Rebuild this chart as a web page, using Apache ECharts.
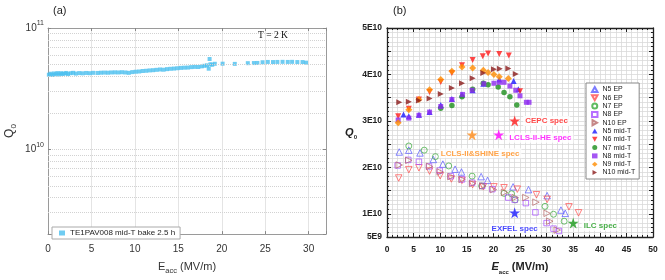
<!DOCTYPE html>
<html><head><meta charset="utf-8">
<script src="https://cdn.jsdelivr.net/npm/echarts@6/dist/echarts.min.js"></script>
<style>html,body{margin:0;padding:0;background:#fff}#c{width:665px;height:280px}</style>
</head><body><div id="c"></div>
<script>
// ---------- Panel (a) data ----------
const aName = 'TE1PAV008 mid-T bake 2.5 h';
const aE = [0.1,0.3,0.5,0.7,0.9,1.1,1.3,1.5,1.7,1.9,2.1,2.3,2.6,2.9,3.2,3.6,4.0,4.4,4.8,5.2,
  5.7,6.1,6.5,6.9,7.3,7.7,8.1,8.5,8.9,9.3,9.7,
  10.1,10.5,10.9,11.3,11.7,12.1,12.5,12.9,13.3,13.7,14.1,14.5,14.9,15.3,15.7,16.1,16.5,16.9,17.3,17.7,
  18.0,18.3,18.5,18.6,18.7,18.9,19.2,
  20.1,21.5,23.0,23.7,24.1,24.7,25.3,25.9,26.4,27.0,27.6,28.1,28.7,29.3,29.7];
const aQ = [4.12e10,4.20e10,4.10e10,4.22e10,4.15e10,4.25e10,4.14e10,4.24e10,4.18e10,4.22e10,
  4.26e10,4.17e10,4.24e10,4.27e10,4.21e10,4.25e10,4.23e10,4.26e10,4.24e10,4.27e10,
  4.26e10,4.28e10,4.29e10,4.28e10,4.30e10,4.31e10,4.30e10,4.32e10,4.30e10,4.27e10,4.33e10,
  4.36e10,4.38e10,4.42e10,4.44e10,4.47e10,4.49e10,4.52e10,4.55e10,4.53e10,4.58e10,4.61e10,4.63e10,4.66e10,4.69e10,4.71e10,4.72e10,4.76e10,4.78e10,4.77e10,4.83e10,
  4.88e10,4.92e10,4.62e10,5.55e10,5.02e10,4.98e10,5.07e10,
  5.08e10,5.06e10,5.13e10,5.14e10,5.15e10,5.22e10,5.25e10,5.24e10,5.25e10,5.26e10,5.25e10,5.26e10,5.24e10,5.24e10,5.18e10];
const aXTicks = [0,5,10,15,20,25,30];
const aMinorGrid = [3e9,4e9,5e9,6e9,7e9,8e9,9e9,2e10,3e10,4e10,5e10,6e10,7e10,8e10,9e10];

// ---------- Panel (b) data ----------
const n5EP_E = [2.3,4.1,6.2,8.7,10.5,12.8,14.0,17.7,18.9,23.7,26.6,30.1,32.7,33.5];
const n5EP_Q = [2.33e10,2.37e10,2.31e10,2.17e10,2.07e10,1.96e10,1.90e10,1.80e10,1.72e10,1.58e10,1.52e10,1.39e10,1.08e10,1.01e10];
const n6EP_E = [2.2,4.1,6.0,8.0,10.0,12.1,14.1,16.1,18.1,20.1,22.0,24.5,28.1,30.1,34.2,36.0];
const n6EP_Q = [1.77e10,1.95e10,1.99e10,1.92e10,1.82e10,1.75e10,1.72e10,1.63e10,1.58e10,1.58e10,1.56e10,1.53e10,1.41e10,1.31e10,1.15e10,1.02e10];
const n7EP_E = [4.1,7.0,9.1,11.6,16.0,17.8,22.0,23.4,24.1,29.7,31.3,33.3];
const n7EP_Q = [2.46e10,2.37e10,2.23e10,2.03e10,1.81e10,1.60e10,1.44e10,1.43e10,1.30e10,1.16e10,0.99e10,0.84e10];
const n8EP_E = [2.0,4.0,6.0,7.9,9.9,12.0,14.1,16.0,17.9,19.8,22.8,24.0,26.1,27.9,30.0,31.3,32.3];
const n8EP_Q = [2.04e10,2.16e10,2.12e10,2.02e10,1.93e10,1.81e10,1.74e10,1.67e10,1.60e10,1.53e10,1.35e10,1.30e10,1.23e10,1.03e10,0.80e10,0.68e10,0.63e10];
const n10EP_E = [2.3,4.1,8.0,10.0,12.0,14.1,16.1,18.0,20.0,22.1,24.1,26.1,28.0,30.1,30.6,32.0];
const n10EP_Q = [2.05e10,2.15e10,2.02e10,1.90e10,1.80e10,1.74e10,1.65e10,1.60e10,1.52e10,1.46e10,1.35e10,1.35e10,1.25e10,1.01e10,0.84e10,0.65e10];
const n5MT_E = [3.1,4.1,6.0,8.0,10.1,12.2,14.1,16.1,18.1,21.1,23.8,24.7];
const n5MT_Q = [3.14e10,3.10e10,3.13e10,3.19e10,3.34e10,3.47e10,3.57e10,3.66e10,3.80e10,3.89e10,3.86e10,3.68e10];
const n6MT_E = [2.1,4.1,6.0,8.0,10.1,12.2,14.1,16.1,18.0,19.0,21.1,22.9,25.0];
const n6MT_Q = [3.10e10,3.26e10,3.46e10,3.62e10,3.84e10,4.03e10,4.20e10,4.31e10,4.39e10,4.45e10,4.44e10,4.41e10,3.64e10];
const n7MT_E = [10.1,12.2,14.1,16.1,18.1,19.0,20.9,22.0,23.1,24.4];
const n7MT_Q = [3.27e10,3.33e10,3.52e10,3.68e10,3.81e10,3.78e10,3.73e10,3.61e10,3.52e10,3.34e10];
const n8MT_E = [2.1,4.1,6.0,8.0,10.1,12.2,14.2,16.0,18.2,20.1,21.1,22.0,23.1,24.2,25.0,26.2,26.7];
const n8MT_Q = [3.02e10,3.06e10,3.12e10,3.19e10,3.31e10,3.46e10,3.57e10,3.66e10,3.80e10,3.81e10,3.83e10,3.83e10,3.75e10,3.66e10,3.54e10,3.40e10,3.40e10];
const n9MT_E = [2.1,4.1,6.0,8.0,10.1,12.2,14.1,16.1,18.1,19.0,20.1,21.1,22.8];
const n9MT_Q = [2.96e10,3.24e10,3.46e10,3.67e10,3.89e10,4.07e10,4.16e10,4.14e10,4.09e10,4.04e10,4.00e10,3.95e10,3.91e10];
const n10MT_E = [2.3,4.1,6.0,8.0,10.1,12.2,14.1,16.1,18.1,20.1,21.2,22.8,24.2];
const n10MT_Q = [3.40e10,3.41e10,3.44e10,3.48e10,3.58e10,3.71e10,3.81e10,3.92e10,4.03e10,4.11e10,4.12e10,4.13e10,4.01e10];

const specNames = ['CEPC spec','LCLS-II-HE spec','LCLS-II&SHINE spec','EXFEL spec','ILC spec'];
const specE = [24, 21, 16, 24, 35];
const specQ = [3.0e10, 2.7e10, 2.7e10, 1.02e10, 0.8e10];

// ---------- Styles ----------
const FONT = '"Liberation Sans", Arial, sans-serif';
const aColor = '#4bbfef';
const TRI_UP = 'path://M5,0 L10,9 L0,9 Z';
const TRI_DOWN = 'path://M0,0 L10,0 L5,9 Z';
const TRI_RIGHT = 'path://M0,0 L9,5 L0,10 Z';
const STAR = 'path://M50,0 L61.8,35.4 L100,35.4 L69.1,57.3 L80.9,95.1 L50,72.4 L19.1,95.1 L30.9,57.3 L0,35.4 L38.2,35.4 Z';
const specStyle = [
  {color:'#ff1a1a', pos:'right', off:[0,0]},
  {color:'#ff00ff', pos:'right', off:[0,3]},
  {color:'#ff8c1a', pos:'bottom', off:[8,5]},
  {color:'#1a1aff', pos:'bottom', off:[0,2]},
  {color:'#1a9a1a', pos:'right', off:[0,3]}
];

function zip(E, Q){ return E.map((e,i)=>[e,Q[i]]); }

const bSeriesDefs = [
  ['N5 EP', n5EP_E, n5EP_Q, TRI_UP, 6.5, '#5b5bff', true],
  ['N6 EP', n6EP_E, n6EP_Q, TRI_DOWN, 6.5, '#ff4d4d', true],
  ['N7 EP', n7EP_E, n7EP_Q, 'circle', 6, '#3aaa3a', true],
  ['N8 EP', n8EP_E, n8EP_Q, 'rect', 5.5, '#a64dff', true],
  ['N10 EP', n10EP_E, n10EP_Q, TRI_RIGHT, 6.5, '#b86a6a', true],
  ['N5 mid-T', n5MT_E, n5MT_Q, TRI_UP, 6, '#1a1aff', false],
  ['N6 mid-T', n6MT_E, n6MT_Q, TRI_DOWN, 6, '#ff1a1a', false],
  ['N7 mid-T', n7MT_E, n7MT_Q, 'circle', 5.5, '#1c8f1c', false],
  ['N8 mid-T', n8MT_E, n8MT_Q, 'rect', 5, '#8f2cf0', false],
  ['N9 mid-T', n9MT_E, n9MT_Q, 'diamond', 7, '#ff8c00', false],
  ['N10 mid-T', n10MT_E, n10MT_Q, TRI_RIGHT, 6, '#8b1a1a', false]
];

const bSeries = bSeriesDefs.map(d => ({
  type:'scatter', name:d[0], xAxisIndex:2, yAxisIndex:2,
  symbol:d[3], symbolSize:d[4],
  itemStyle: d[6] ? {color:'rgba(255,255,255,0)', borderColor:d[5], borderWidth:0.9}
                  : {color:d[5], borderWidth:0},
  data: zip(d[1], d[2]), z:3
}));

const specSeries = {
  type:'scatter', name:'specs', xAxisIndex:2, yAxisIndex:2, symbol:STAR,
  symbolSize:11, z:5,
  data: specNames.map((n,i)=>({
    value:[specE[i], specQ[i]], name:n,
    itemStyle:{color:specStyle[i].color},
    label:{show:true, formatter:n, position:specStyle[i].pos, offset:specStyle[i].off,
      color:specStyle[i].color, fontWeight:'bold', fontSize:8, fontFamily:FONT,
      backgroundColor:'#fff', padding:[1,2], distance:3}
  }))
};

const gridLine = '#d9d9d9';
const frameB = {show:true, onZero:false, lineStyle:{color:'#222', width:1.3}};
const frameA = {show:true, onZero:false, lineStyle:{color:'#9a9a9a', width:1}};

function supLabel(v){
  const e = Math.round(Math.log10(v));
  if (Math.abs(v/Math.pow(10,e) - 1) < 1e-6) return '{b|10}{s|' + e + '}';
  return '';
}
function bYLabel(v){
  const k = v/1e10;
  if (Math.abs(k - Math.round(k)) < 1e-6 && Math.round(k) > 0) return Math.round(k) + 'E10';
  if (Math.abs(v - 5e9) < 1) return '5E9';
  return '';
}

const option = {
  animation:false,
  textStyle:{fontFamily:FONT},
  title:[
    {text:'(a)', left:53, top:5, padding:0, textStyle:{fontSize:11, fontWeight:'normal', color:'#222', fontFamily:FONT}},
    {text:'(b)', left:393, top:5, padding:0, textStyle:{fontSize:11, fontWeight:'normal', color:'#222', fontFamily:FONT}},
    {text:'T = 2 K', left:258, top:30, padding:0, textStyle:{fontSize:9.5, fontWeight:'normal', color:'#111', fontFamily:'"Liberation Serif", "Times New Roman", serif'}}
  ],
  grid:[
    {left:48, top:28, width:278, height:213},
    {left:387, top:28, width:266, height:213}
  ],
  legend:[
    {data:[aName], left:52, top:227, orient:'horizontal', padding:[2,5,2,7], itemWidth:6, itemHeight:5, itemGap:2,
     borderColor:'#aaa', borderWidth:1, backgroundColor:'#fff',
     textStyle:{fontSize:8, color:'#222', fontFamily:FONT}},
    {data:bSeriesDefs.map(d=>d[0]), left:586, top:83, orient:'vertical', padding:[3,4,3,5], itemWidth:5.5, itemHeight:5, itemGap:1.3,
     borderColor:'#888', borderWidth:1, backgroundColor:'#fff',
     textStyle:{fontSize:7, color:'#222', fontFamily:FONT}}
  ],
  xAxis:[
    {type:'value', gridIndex:0, min:0, max:32, interval:5, axisLine:frameA,
     axisTick:{show:true, inside:true, length:3, lineStyle:{color:'#888'}},
     axisLabel:{fontSize:10, color:'#333', margin:10, formatter:v=> aXTicks.indexOf(v)>=0 ? String(v) : ''},
     splitLine:{show:true, lineStyle:{color:'#e4e4e4', width:1}},
     name:'E{sub|acc} (MV/m)', nameLocation:'middle', nameGap:22,
     nameTextStyle:{fontSize:11, color:'#333', lineHeight:16, rich:{sub:{fontSize:7.5, verticalAlign:'bottom', lineHeight:10, color:'#333'}}}},
    {type:'value', gridIndex:0, position:'top', min:0, max:32, interval:5, axisLine:frameA,
     axisTick:{show:true, inside:true, length:3, lineStyle:{color:'#888'}}, axisLabel:{show:false}, splitLine:{show:false}},
    {type:'value', gridIndex:1, min:0, max:50, interval:5, axisLine:frameB,
     axisTick:{show:true, inside:true, length:4, lineStyle:{color:'#222'}},
     minorTick:{show:true, splitNumber:5, length:2, lineStyle:{color:'#222'}},
     axisLabel:{fontSize:8.5, fontWeight:'bold', color:'#222', margin:8},
     splitLine:{show:true, lineStyle:{color:gridLine, width:0.8}},
     minorSplitLine:{show:true, lineStyle:{color:gridLine, width:0.8}},
     name:'{e|E}{sub|acc}{r| (MV/m)}', nameLocation:'middle', nameGap:22,
     nameTextStyle:{rich:{e:{fontSize:11, fontWeight:'bold', fontStyle:'italic', color:'#222', lineHeight:16},
                          sub:{fontSize:6, fontWeight:'bold', verticalAlign:'bottom', lineHeight:10, color:'#222'},
                          r:{fontSize:11, fontWeight:'bold', color:'#222', lineHeight:16}}}},
    {type:'value', gridIndex:1, position:'top', min:0, max:50, interval:5, axisLine:frameB,
     axisTick:{show:true, inside:true, length:4, lineStyle:{color:'#222'}},
     minorTick:{show:true, splitNumber:5, length:2, lineStyle:{color:'#222'}},
     axisLabel:{show:false}, splitLine:{show:false}}
  ],
  yAxis:[
    {type:'log', logBase:10, gridIndex:0, min:2e9, max:1e11, axisLine:frameA,
     axisTick:{show:true, inside:true, length:3, lineStyle:{color:'#888'}},
     axisLabel:{formatter:supLabel, margin:4, rich:{b:{fontSize:10, color:'#333', lineHeight:16}, s:{fontSize:7, color:'#333', verticalAlign:'top', lineHeight:10}}},
     splitLine:{show:true, lineStyle:{color:'#d2d2d2', type:'dotted', width:1}},
     name:'Q{sub|0}', nameLocation:'middle', nameGap:30, nameRotate:90,
     nameTextStyle:{fontSize:12, color:'#333', lineHeight:16, rich:{sub:{fontSize:8, verticalAlign:'bottom', lineHeight:10, color:'#333'}}}},
    {type:'log', logBase:10, gridIndex:0, position:'right', min:2e9, max:1e11, axisLine:frameA,
     axisTick:{show:true, inside:true, length:3, lineStyle:{color:'#888'}}, axisLabel:{show:false}, splitLine:{show:false}},
    {type:'value', gridIndex:1, min:5e9, max:5e10, interval:5e9, axisLine:frameB,
     axisTick:{show:true, inside:true, length:4, lineStyle:{color:'#222'}},
     minorTick:{show:true, splitNumber:5, length:2, lineStyle:{color:'#222'}},
     axisLabel:{fontSize:8.5, fontWeight:'bold', color:'#222', margin:5, formatter:bYLabel},
     splitLine:{show:true, lineStyle:{color:gridLine, width:0.8}},
     minorSplitLine:{show:true, lineStyle:{color:gridLine, width:0.8}},
     name:'{q|Q}{sub|0}', nameLocation:'middle', nameGap:30, nameRotate:0,
     nameTextStyle:{rich:{q:{fontSize:11, fontWeight:'bold', fontStyle:'italic', color:'#222', lineHeight:16},
                          sub:{fontSize:6, fontWeight:'bold', verticalAlign:'bottom', lineHeight:10, color:'#222'}}}},
    {type:'value', gridIndex:1, position:'right', min:5e9, max:5e10, interval:5e9, axisLine:frameB,
     axisTick:{show:true, inside:true, length:4, lineStyle:{color:'#222'}},
     minorTick:{show:true, splitNumber:5, length:2, lineStyle:{color:'#222'}},
     axisLabel:{show:false}, splitLine:{show:false}}
  ],
  series:[
    {type:'scatter', name:aName, xAxisIndex:0, yAxisIndex:0, symbol:'rect', symbolSize:4,
     itemStyle:{color:aColor}, data:zip(aE, aQ), z:3,
     markLine:{silent:true, symbol:'none', label:{show:false}, animation:false,
       lineStyle:{color:'#d2d2d2', type:'dotted', width:1},
       data:aMinorGrid.map(v=>({yAxis:v}))}}
  ].concat(bSeries, [specSeries])
};

const chart = echarts.init(document.getElementById('c'), null, {renderer:'canvas'});
chart.setOption(option);
</script></body></html>
